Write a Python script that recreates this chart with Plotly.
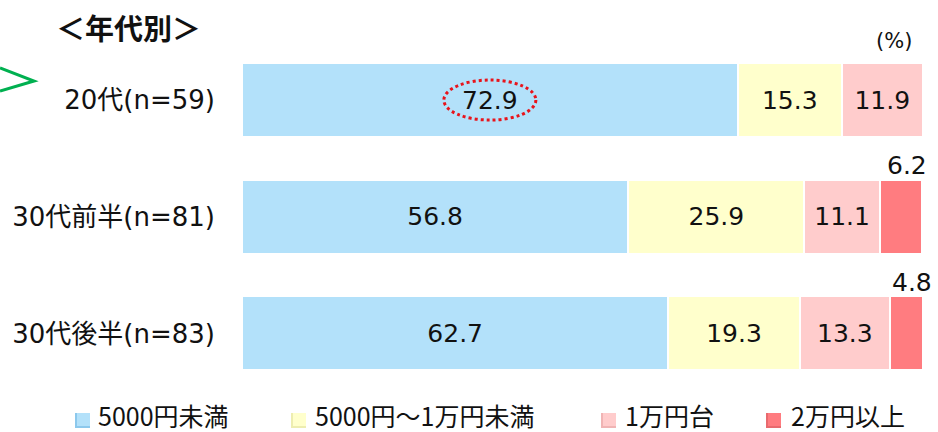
import plotly.graph_objects as go

# Age groups (top to bottom) and share of each spending band (%)
groups = ["20代(n=59)", "30代前半(n=81)", "30代後半(n=83)"]
band_names = ["5000円未満", "5000円～1万円未満", "1万円台", "2万円以上"]
under_5000 = [72.9, 56.8, 62.7]
from_5000_to_10000 = [15.3, 25.9, 19.3]
tens_of_thousands = [11.9, 11.1, 13.3]
over_20000 = [0.0, 6.2, 4.8]

bands = [under_5000, from_5000_to_10000, tens_of_thousands, over_20000]
colors = ["#B3E1FA", "#FFFFCC", "#FFCCCC", "#FF7C80"]
edge_colors = ["#8CC8EC", "#EDEDB0", "#F0B4B4", "#E86A6E"]

FONT = "DejaVu Sans, Noto Sans CJK JP, sans-serif"
CJK = "Noto Sans CJK JP, sans-serif"
W, H = 938, 432

fig = go.Figure()

for name, vals, col in zip(band_names, bands, colors):
    # Narrow segments get their value printed above the bar instead
    texts = [f"{v:.1f}" if v >= 8 else "" for v in vals]
    fig.add_trace(go.Bar(
        y=groups, x=vals, name=name, orientation="h",
        marker=dict(color=col, line=dict(color="white", width=2)),
        text=texts, textposition="inside", insidetextanchor="middle",
        textfont=dict(family=FONT, size=25, color="#111111"),
        showlegend=False, hoverinfo="skip",
    ))

annotations = []
shapes = []

# Values of the small red segments, above the right end of each bar
for i, g in enumerate(groups):
    v = over_20000[i]
    if 0 < v < 8:
        start = under_5000[i] + from_5000_to_10000[i] + tens_of_thousands[i]
        annotations.append(dict(
            x=start + v / 2, y=g, xref="x", yref="y", text=f"{v:.1f}",
            showarrow=False, yshift=51, xshift=6,
            font=dict(family=FONT, size=25, color="#111111"),
        ))

# Dotted highlight around the 20代 main value
shapes.append(dict(
    type="circle", xref="x", yref="y",
    xsizemode="pixel", ysizemode="pixel",
    xanchor=under_5000[0] / 2, yanchor=0,
    x0=-46, x1=46, y0=-20, y1=20,
    line=dict(color="#E8141B", width=3, dash="dot"),
))

# Title and unit
annotations.append(dict(
    x=54 / W, y=1 - 27 / H, xref="paper", yref="paper",
    xanchor="left", yanchor="middle",
    text="<b>＜年代別＞</b>", showarrow=False,
    font=dict(family=CJK, size=29, color="#111111"),
))
annotations.append(dict(
    x=894 / W, y=1 - 41 / H, xref="paper", yref="paper",
    xanchor="center", yanchor="middle",
    text="(%)", showarrow=False,
    font=dict(family=FONT, size=21, color="#111111"),
))

# Green chevron at the left edge
shapes.append(dict(
    type="path", xref="paper", yref="paper",
    path=f"M 0 {1 - 68 / H} L {34 / W} {1 - 81 / H} L 0 {1 - 91 / H}",
    line=dict(color="#00B050", width=3),
))

# Legend drawn as small squares (with a soft darker edge) and labels
legend_pos = [(75, 96), (291, 313), (601, 623), (766, 789)]
for (sq, tx), name, col, edge in zip(legend_pos, band_names, colors, edge_colors):
    shapes.append(dict(
        type="rect", xref="paper", yref="paper",
        x0=sq / W, x1=(sq + 15) / W, y0=1 - 428 / H, y1=1 - 413 / H,
        fillcolor=edge, line=dict(width=0),
    ))
    shapes.append(dict(
        type="rect", xref="paper", yref="paper",
        x0=(sq + 2) / W, x1=(sq + 15) / W, y0=1 - 426 / H, y1=1 - 413 / H,
        fillcolor=col, line=dict(width=0),
    ))
    annotations.append(dict(
        x=tx / W, y=1 - 415 / H, xref="paper", yref="paper",
        xanchor="left", yanchor="middle", text=name, showarrow=False,
        font=dict(family=CJK, size=25, color="#111111"),
    ))

fig.update_layout(
    width=W, height=H, barmode="stack", bargap=0.365,
    margin=dict(l=0, r=0, t=0, b=0, autoexpand=False),
    plot_bgcolor="white", paper_bgcolor="white",
    xaxis=dict(domain=[242 / W, 922 / W], range=[0, 100], visible=False,
               fixedrange=True),
    yaxis=dict(domain=[1 - 391.8 / H, 1 - 41.7 / H], range=[2.5, -0.5],
               autorange=False, fixedrange=True,
               showgrid=False, zeroline=False, showline=False,
               ticks="", ticklabelstandoff=26, automargin=False,
               tickfont=dict(family=FONT, size=26, color="#111111")),
    annotations=annotations, shapes=shapes,
    uniformtext=dict(mode="show", minsize=10),
)

fig.write_html("out.html")
